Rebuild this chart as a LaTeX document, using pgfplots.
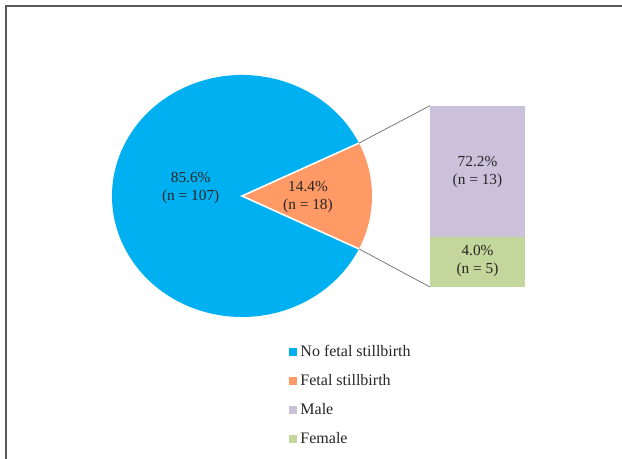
\documentclass[border=0pt]{standalone}
\usepackage{fontspec}
\setmainfont{Liberation Serif}
\usepackage{pgfplots}
\usepackage{pgfplotstable}
\pgfplotsset{compat=1.18}
\definecolor{cblue}{HTML}{00B0F0}
\definecolor{corange}{HTML}{FF9966}
\definecolor{cpurple}{HTML}{CCC1DA}
\definecolor{cgreen}{HTML}{C3D69B}
\definecolor{ctext}{HTML}{262626}
\pgfplotstableread{
group n
NoFetal 107
Fetal 18
}\pietable
\pgfplotstableread{
x female male
0.5 5 13
}\bartable
\begin{document}
\begin{tikzpicture}
\useasboundingbox (0pt,0pt) rectangle (466.5pt,344.25pt);
\pgfplotstablegetelem{0}{n}\of\pietable \let\na\pgfplotsretval
\pgfplotstablegetelem{1}{n}\of\pietable \let\nb\pgfplotsretval
\pgfmathsetmacro\half{180*\nb/(\na+\nb)}
\pgfmathsetmacro\bend{360-\half}
\begin{axis}[at={(322.5pt,129pt)}, anchor=south west, scale only axis,
  width=71.25pt, height=135.75pt, xmin=0, xmax=1, ymin=0, ymax=18,
  hide axis, ybar stacked, bar width=1, clip=false]
  \addplot[fill=cgreen, draw=none] table[x=x, y=female] {\bartable};
  \addplot[fill=cpurple, draw=none] table[x=x, y=male] {\bartable};
\end{axis}
\begin{axis}[name=main, at={(0pt,0pt)}, anchor=south west, scale only axis,
  width=466.5pt, height=344.25pt, xmin=0, xmax=622, ymin=0, ymax=459,
  hide axis, clip=false,
  legend style={at={(axis cs:289,115)}, anchor=north west, draw=none, fill=none,
    inner sep=0pt, row sep=9.75pt, column sep=3pt,
    font=\fontsize{12}{14}\selectfont\color{ctext},
    nodes={inner sep=0pt, text height=9pt, text depth=3pt, anchor=base west}},
  legend cell align=left]
  % frame
  \draw[black!65, line width=1.1pt] (axis cs:6,0) -- (axis cs:6,453) -- (axis cs:622,453);
  % pie
  \fill[cblue] (axis cs:242,263) -- (axis cs:{242+130*cos(\half)},{263+121*sin(\half)})
     arc[start angle=\half, end angle=\bend, x radius=97.5pt, y radius=90.75pt] -- cycle;
  \fill[corange] (axis cs:242,263) -- (axis cs:{242+130*cos(\half)},{263-121*sin(\half)})
     arc[start angle=-\half, end angle=\half, x radius=97.5pt, y radius=90.75pt] -- cycle;
  \draw[white, line width=1.2pt] (axis cs:{242+130*cos(\half)},{263+121*sin(\half)}) -- (axis cs:242,263)
     -- (axis cs:{242+130*cos(\half)},{263-121*sin(\half)});
  % connectors
  \draw[black!60, line width=0.5pt] (axis cs:{242+130*cos(\half)},{263+121*sin(\half)}) -- (axis cs:430,353.3);
  \draw[black!60, line width=0.5pt] (axis cs:{242+130*cos(\half)},{263-121*sin(\half)}) -- (axis cs:430,172);
  % labels
  \node[align=center, text=ctext, font=\fontsize{11.5}{13.5}\selectfont] at (axis cs:190.7,271) {85.6\%\\(n = 107)};
  \node[align=center, text=ctext, font=\fontsize{11.5}{13.5}\selectfont] at (axis cs:308,262) {14.4\%\\(n = 18)};
  \node[align=center, text=ctext, font=\fontsize{11.5}{13.5}\selectfont] at (axis cs:477.5,287) {72.2\%\\(n = 13)};
  \node[align=center, text=ctext, font=\fontsize{11.5}{13.5}\selectfont] at (axis cs:477.5,198) {4.0\%\\(n = 5)};
  % legend
  \addlegendimage{legend image code/.code={\fill[cblue] (0pt,0.7pt) rectangle (5pt,5.7pt);}}
  \addlegendentry{No fetal stillbirth}
  \addlegendimage{legend image code/.code={\fill[corange] (0pt,0.7pt) rectangle (5pt,5.7pt);}}
  \addlegendentry{Fetal stillbirth}
  \addlegendimage{legend image code/.code={\fill[cpurple] (0pt,0.7pt) rectangle (5pt,5.7pt);}}
  \addlegendentry{Male}
  \addlegendimage{legend image code/.code={\fill[cgreen] (0pt,0.7pt) rectangle (5pt,5.7pt);}}
  \addlegendentry{Female}
\end{axis}
\end{tikzpicture}
\end{document}
